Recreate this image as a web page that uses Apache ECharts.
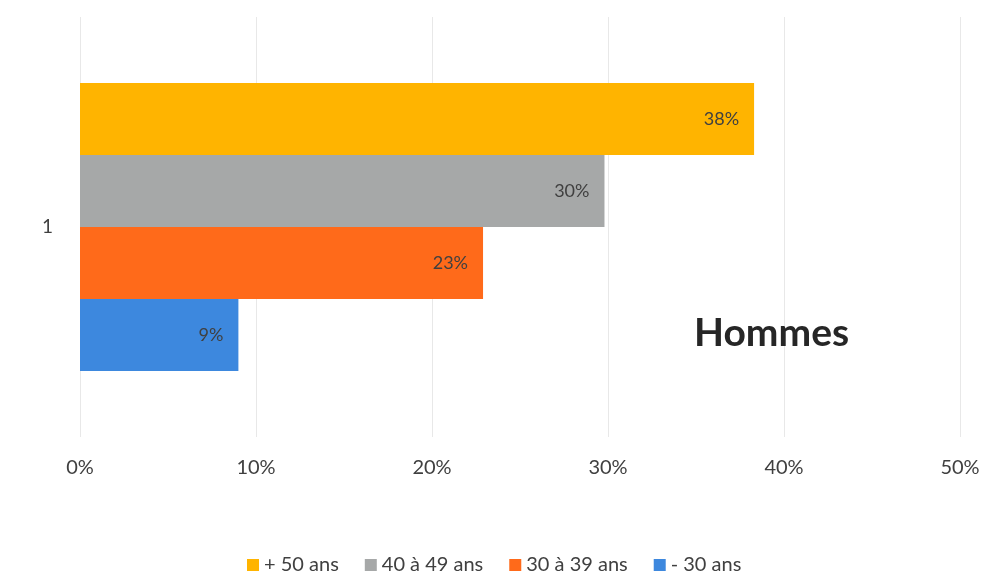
<!DOCTYPE html>
<html>
<head>
<meta charset="utf-8">
<script src="https://cdn.jsdelivr.net/npm/echarts@6/dist/echarts.min.js"></script>
<style>html,body{margin:0;padding:0;background:#fff;}#c{width:984px;height:573px;}</style>
</head>
<body>
<div id="c"></div>
<script>
const categories = ['1'];
const seriesNames = ['+ 50 ans', '40 à 49 ans', '30 à 39 ans', '- 30 ans'];
const seriesValues = [[38.3], [29.8], [22.9], [9.0]];
const seriesColors = ['#FFB400', '#A6A8A8', '#FF6A1A', '#3D88DE'];
const xTicks = [0, 10, 20, 30, 40, 50];

const font = 'Lato, "Open Sans", sans-serif';
const chart = echarts.init(document.getElementById('c'), null, {renderer: 'canvas'});
chart.setOption({
  animation: false,
  textStyle: {fontFamily: font},
  grid: {left: 80, right: 24, top: 17, bottom: 136, containLabel: false},
  legend: {
    data: seriesNames,
    top: 550,
    left: 242,
    itemWidth: 12, itemHeight: 12, itemGap: 26,
    icon: 'rect',
    textStyle: {fontSize: 20, color: '#404040', fontFamily: font}
  },
  xAxis: {
    type: 'value', min: xTicks[0], max: xTicks[xTicks.length - 1], interval: 10,
    axisLine: {show: false}, axisTick: {show: false},
    axisLabel: {formatter: v => v + '%', fontSize: 20, color: '#404040', margin: 21, fontFamily: font},
    splitLine: {lineStyle: {color: '#E8E8E8', width: 1}}
  },
  yAxis: {
    type: 'category', data: categories,
    axisLine: {show: false}, axisTick: {show: false},
    axisLabel: {fontSize: 19, color: '#404040', margin: 27, fontFamily: font}
  },
  series: seriesNames.map((n, i) => ({
    name: n, type: 'bar', data: seriesValues[i],
    barWidth: 72, barGap: '0%',
    itemStyle: {color: seriesColors[i]},
    label: {show: true, position: 'insideRight', distance: 15, formatter: p => Math.round(p.value) + '%', fontSize: 18, color: '#404040', fontFamily: font}
  })),
  graphic: [{
    type: 'text', left: 694, top: 314, z: 100,
    style: {text: 'Hommes', font: 'bold 39px ' + font, fill: '#262626'}
  }]
});
</script>
</body>
</html>
